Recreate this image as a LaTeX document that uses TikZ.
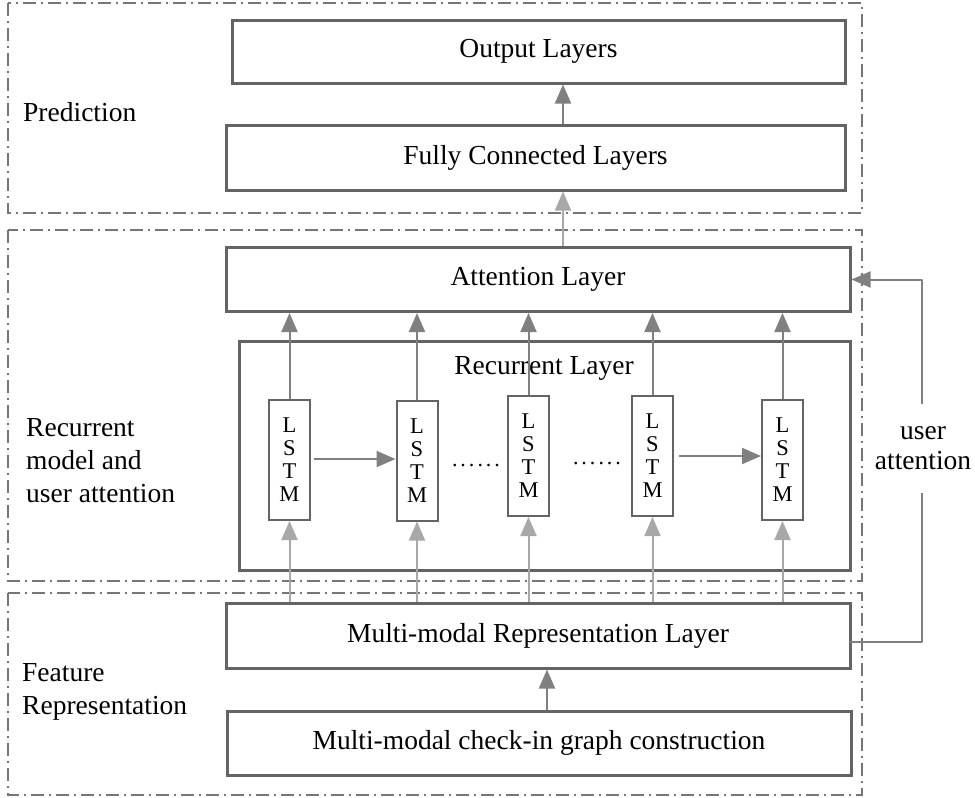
\documentclass[tikz,border=0pt]{standalone}
\usepackage{fontspec}
\setmainfont{Liberation Serif}
\usetikzlibrary{arrows.meta}
\definecolor{boxc}{RGB}{100,100,100}
\definecolor{dashc}{RGB}{118,118,118}
\definecolor{arrd}{RGB}{128,128,128}
\definecolor{arrl}{RGB}{168,168,168}
\newcommand{\sixdots}{.\kern3pt.\kern3pt.\kern3pt.\kern3pt.\kern3pt.}
\begin{document}
\begin{tikzpicture}[x=1pt,y=-1pt,
  group/.style={draw=dashc, line width=1.5pt, dash pattern=on 13pt off 5pt on 2pt off 5pt},
  layer/.style={draw=boxc, line width=3pt, inner sep=0pt, font=\fontsize{27.5}{30}\selectfont},
  lstm/.style={draw=boxc, line width=2pt, minimum width=41pt, minimum height=120pt, inner sep=0pt, align=center, font=\fontsize{22.5}{23}\selectfont},
  lbl/.style={font=\fontsize{27.5}{33}\selectfont, align=left, inner sep=0pt, anchor=west},
  darr/.style={draw=arrd, line width=2pt, -{Triangle[length=19pt,width=16pt]}},
  larr/.style={draw=arrl, line width=2pt, -{Triangle[length=19pt,width=16pt]}},
  dotsn/.style={font=\fontsize{22}{22}\selectfont, inner sep=0pt}
]
\useasboundingbox (0,0) rectangle (975,798);

% group frames
\draw[group] (8,3) rectangle (862,213);
\draw[group] (8,230) rectangle (862,581);
\draw[group] (8,593) rectangle (862,795);

% group labels
\node[lbl] (gpred) at (23,112) {Prediction};
\node[lbl] (grec) at (26,461) {Recurrent\\model and\\user attention};
\node[lbl] (gfeat) at (22,692) {Feature\\Representation};

% layers
\node[layer, minimum width=613pt, minimum height=63pt] (out) at (538.5,51.5) {Output Layers};
\node[layer, minimum width=619pt, minimum height=65pt] (fc) at (535.5,157.5) {Fully Connected Layers};
\node[layer, minimum width=624pt, minimum height=64pt] (att) at (538,279.5) {Attention Layer};
\node[layer, minimum width=611pt, minimum height=229pt] (rec) at (544.5,455.5) {};
\node[font=\fontsize{27.5}{30}\selectfont, inner sep=0pt] (reclbl) at (544,368) {Recurrent Layer};
\node[layer, minimum width=624pt, minimum height=65pt] (rep) at (538,635.5) {Multi-modal Representation Layer};
\node[layer, minimum width=624pt, minimum height=64pt] (chk) at (539,743) {Multi-modal check-in graph construction};

% LSTM cells
\node[lstm] (l1) at (289.5,460) {L\\S\\T\\M};
\node[lstm] (l2) at (417,460.5) {L\\S\\T\\M};
\node[lstm] (l3) at (528.5,456) {L\\S\\T\\M};
\node[lstm] (l4) at (652.5,456) {L\\S\\T\\M};
\node[lstm] (l5) at (782.5,460) {L\\S\\T\\M};

\node[dotsn] (d1) at (476,466) {\sixdots};
\node[dotsn] (d2) at (597,464) {\sixdots};

% coordinates for the central arrows
\coordinate (cx) at (563,0);
\coordinate (bx) at (547,0);
\coordinate (ua) at (922,0);

% LSTM -> attention, representation -> LSTM
\foreach \n in {l1,l2,l3,l4,l5}{
  \draw[darr] (\n.north) -- (\n.north |- att.south);
  \draw[larr] (\n.south |- rep.north) -- (\n.south);
}
% horizontal recurrence
\draw[darr, shorten <=3pt] ([yshift=1pt]l1.east) -- ([yshift=1pt]l1.east -| l2.west);
\draw[darr, shorten <=5pt] (l4.east) -- (l4.east -| l5.west);

% vertical flow
\draw[larr] (att.north -| cx) -- (fc.south -| cx);
\draw[darr] (fc.north -| cx) -- (out.south -| cx);
\draw[darr] (chk.north -| bx) -- (rep.south -| bx);

% user attention
\coordinate (repe) at (850,642);
\draw[darr, line join=round] (repe) -- (repe -| ua) -- (att.east -| ua) -- (att.east);
\node[fill=white, inner sep=0pt, minimum height=89pt, minimum width=90pt, align=center, font=\fontsize{27.5}{30}\selectfont] (ualbl) at (923,448) {user\\attention};
\end{tikzpicture}
\end{document}
